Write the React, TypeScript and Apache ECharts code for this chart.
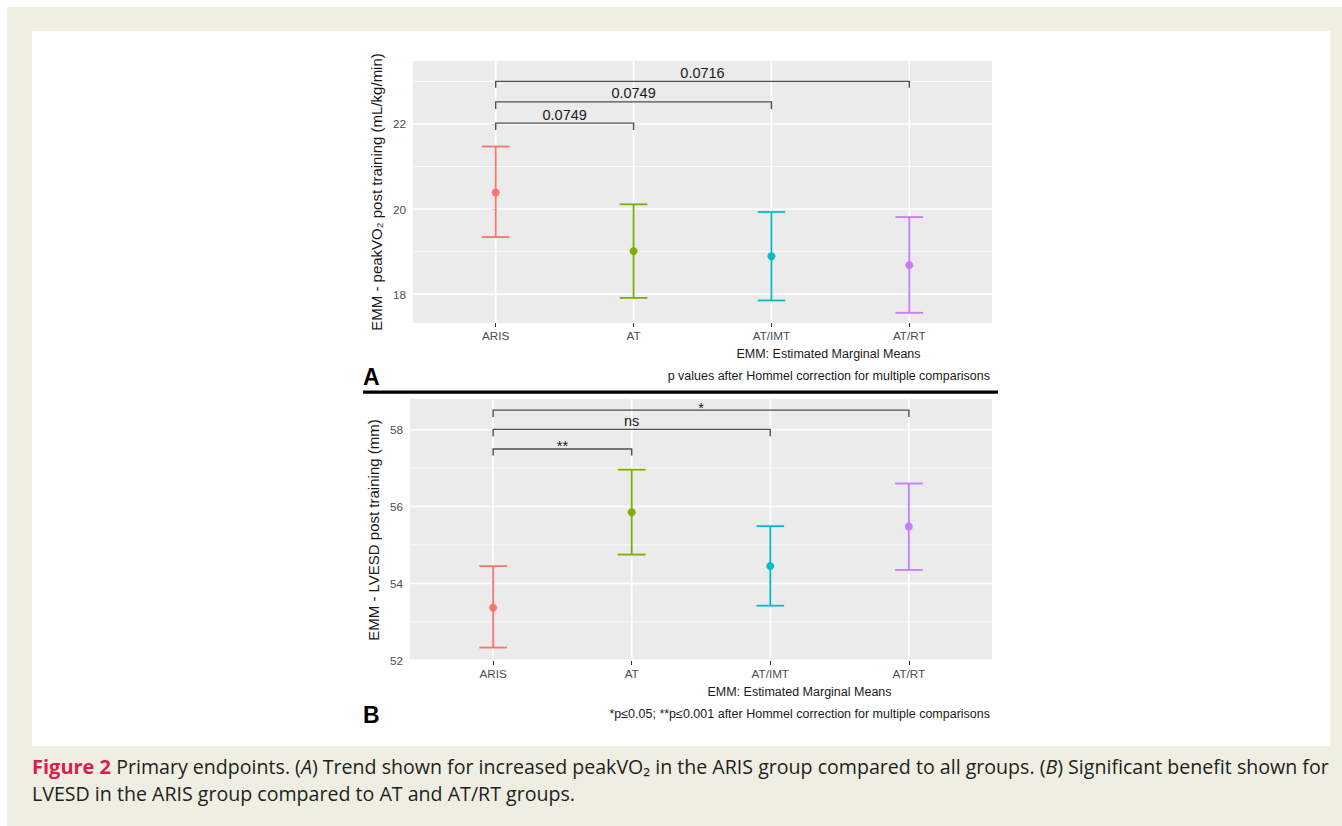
import React, { useEffect, useRef } from 'react';
import * as echarts from 'echarts';

const groups = ['ARIS', 'AT', 'AT/IMT', 'AT/RT'];
const groupColors = ['#F8766D', '#7CAE00', '#00BFC4', '#C77CFF'];

// Panel A: peakVO2 EMM (mL/kg/min)
const vo2Mean = [20.39, 19.01, 18.89, 18.68];
const vo2Low = [19.34, 17.91, 17.85, 17.56];
const vo2High = [21.47, 20.11, 19.93, 19.81];
const vo2Ticks = [18, 20, 22];
const vo2MinorTicks = [19, 21, 23];
const vo2Min = 17.32;
const vo2Max = 23.48;
const vo2BracketTo = [1, 2, 3];
const vo2BracketY = [22.02, 22.52, 23.0];
const vo2BracketTip = [21.86, 22.35, 22.85];
const vo2BracketLabels = ['0.0749', '0.0749', '0.0716'];

// Panel B: LVESD EMM (mm)
const lvMean = [53.37, 55.85, 54.45, 55.48];
const lvLow = [52.33, 54.75, 53.42, 54.35];
const lvHigh = [54.45, 56.96, 55.49, 56.6];
const lvTicks = [52, 54, 56, 58];
const lvMinorTicks = [53, 55, 57];
const lvMin = 51.98;
const lvMax = 58.8;
const lvBracketTo = [1, 2, 3];
const lvBracketY = [57.5, 58.01, 58.51];
const lvBracketTip = [57.33, 57.83, 58.33];
const lvBracketLabels = ['**', 'ns', '*'];

const FONT = '"Liberation Sans", Arial, sans-serif';
const CAPTION_FONT = '"Open Sans", Lato, sans-serif';
const CAPTION_SIZE = 19.6;

function panelSeries(
  gi: number,
  mean: number[],
  low: number[],
  high: number[],
  ticks: number[],
  minor: number[],
  bTo: number[],
  bY: number[],
  bTip: number[],
  bLabels: string[]
): any[] {
  const gridData: number[][] = [
    ...ticks.map((v) => [v, 0, 1.6]),
    ...minor.map((v) => [v, 0, 0.8]),
    ...groups.map((_, k) => [k, 1, 1.6]),
  ];
  return [
    {
      type: 'custom',
      xAxisIndex: gi,
      yAxisIndex: gi,
      silent: true,
      z: 1,
      data: gridData,
      renderItem: (params: any, api: any) => {
        const cs = params.coordSys;
        const v = api.value(0);
        const orient = api.value(1);
        const w = api.value(2);
        if (orient === 0) {
          const y = api.coord([0, v])[1];
          if (y < cs.y - 0.5 || y > cs.y + cs.height + 0.5) return null;
          return {
            type: 'line',
            shape: { x1: cs.x, y1: y, x2: cs.x + cs.width, y2: y },
            style: { stroke: '#ffffff', lineWidth: w },
          };
        }
        const x = api.coord([v, (ticks[0] + ticks[1]) / 2])[0];
        return {
          type: 'line',
          shape: { x1: x, y1: cs.y, x2: x, y2: cs.y + cs.height },
          style: { stroke: '#ffffff', lineWidth: w },
        };
      },
    },
    {
      type: 'custom',
      xAxisIndex: gi,
      yAxisIndex: gi,
      silent: true,
      z: 3,
      data: groups.map((_, k) => [k, low[k], high[k]]),
      encode: { x: 0, y: [1, 2] },
      renderItem: (params: any, api: any) => {
        const k = api.value(0);
        const pLo = api.coord([k, api.value(1)]);
        const pHi = api.coord([k, api.value(2)]);
        const half = api.size([0.1, 0])[0];
        const col = groupColors[params.dataIndex];
        const st = { stroke: col, lineWidth: 1.8 };
        return {
          type: 'group',
          children: [
            { type: 'line', shape: { x1: pLo[0], y1: pLo[1], x2: pHi[0], y2: pHi[1] }, style: st },
            { type: 'line', shape: { x1: pHi[0] - half, y1: pHi[1], x2: pHi[0] + half, y2: pHi[1] }, style: st },
            { type: 'line', shape: { x1: pLo[0] - half, y1: pLo[1], x2: pLo[0] + half, y2: pLo[1] }, style: st },
          ],
        };
      },
    },
    {
      type: 'scatter',
      xAxisIndex: gi,
      yAxisIndex: gi,
      silent: true,
      z: 4,
      symbolSize: 8,
      data: groups.map((_, k) => ({ value: [k, mean[k]], itemStyle: { color: groupColors[k], opacity: 1 } })),
    },
    {
      type: 'custom',
      xAxisIndex: gi,
      yAxisIndex: gi,
      silent: true,
      z: 5,
      data: bTo.map((t, i) => [0, t, bY[i], bTip[i]]),
      encode: { x: [0, 1], y: [2, 3] },
      renderItem: (params: any, api: any) => {
        const a = api.coord([api.value(0), api.value(2)]);
        const b = api.coord([api.value(1), api.value(2)]);
        const ta = api.coord([api.value(0), api.value(3)]);
        const tb = api.coord([api.value(1), api.value(3)]);
        const label = bLabels[params.dataIndex];
        const isStar = label.indexOf('*') >= 0;
        return {
          type: 'group',
          children: [
            {
              type: 'polyline',
              shape: { points: [ta, a, b, tb] },
              style: { stroke: '#505050', lineWidth: 1.4, fill: 'none' },
            },
            {
              type: 'text',
              x: (a[0] + b[0]) / 2,
              y: a[1] + (isStar ? 5 : -1),
              style: {
                text: label,
                fontFamily: FONT,
                fontSize: 14.5,
                fill: '#1a1a1a',
                align: 'center',
                verticalAlign: 'bottom',
              },
            },
          ],
        };
      },
    },
  ];
}

function xAxisFor(gi: number): any {
  return {
    type: 'value',
    gridIndex: gi,
    min: -0.6,
    max: 3.6,
    axisLine: { show: false },
    splitLine: { show: false },
    axisTick: { show: true, customValues: [0, 1, 2, 3], length: 4, lineStyle: { color: '#333333', width: 1 } },
    axisLabel: {
      customValues: [0, 1, 2, 3],
      formatter: (v: number) => groups[Math.round(v)] ?? '',
      color: '#4d4d4d',
      fontFamily: FONT,
      fontSize: 11.7,
      margin: 6,
    },
  };
}

function yAxisFor(gi: number, min: number, max: number, ticks: number[], name: string): any {
  return {
    type: 'value',
    gridIndex: gi,
    min,
    max,
    name,
    nameLocation: 'middle',
    nameGap: 29,
    nameTextStyle: { color: '#1a1a1a', fontFamily: FONT, fontSize: 15 },
    axisLine: { show: false },
    splitLine: { show: false },
    axisTick: { show: true, customValues: ticks, length: 4, lineStyle: { color: '#333333', width: 1 } },
    axisLabel: {
      customValues: ticks,
      color: '#4d4d4d',
      fontFamily: FONT,
      fontSize: 11.7,
      margin: 7,
    },
  };
}

function textEl(text: string, x: number, y: number, align: string, size: number, extra: any = {}): any {
  return {
    type: 'text',
    x,
    y,
    silent: true,
    style: {
      text,
      fontFamily: FONT,
      fontSize: size,
      fill: '#1a1a1a',
      align,
      verticalAlign: 'middle',
      ...extra,
    },
  };
}

export default function App() {
  const ref = useRef<HTMLDivElement>(null);

  useEffect(() => {
    if (!ref.current) return;
    const chart = echarts.init(ref.current, undefined, { renderer: 'svg' });
    const option: any = {
      animation: false,
      backgroundColor: 'transparent',
      grid: [
        { left: 413, top: 61, width: 579, height: 262, show: true, backgroundColor: '#ebebeb', borderWidth: 0 },
        { left: 410, top: 399, width: 582, height: 262, show: true, backgroundColor: '#ebebeb', borderWidth: 0 },
      ],
      xAxis: [xAxisFor(0), xAxisFor(1)],
      yAxis: [
        yAxisFor(0, vo2Min, vo2Max, vo2Ticks, 'EMM - peakVO₂ post training (mL/kg/min)'),
        yAxisFor(1, lvMin, lvMax, lvTicks, 'EMM - LVESD post training (mm)'),
      ],
      series: [
        ...panelSeries(0, vo2Mean, vo2Low, vo2High, vo2Ticks, vo2MinorTicks, vo2BracketTo, vo2BracketY, vo2BracketTip, vo2BracketLabels),
        ...panelSeries(1, lvMean, lvLow, lvHigh, lvTicks, lvMinorTicks, lvBracketTo, lvBracketY, lvBracketTip, lvBracketLabels),
      ],
      graphic: [
        textEl('EMM: Estimated Marginal Means', 828.5, 354, 'center', 12.5),
        textEl('p values after Hommel correction for multiple comparisons', 990, 376, 'right', 12.5),
        textEl('A', 363, 377, 'left', 23, { fontWeight: 'bold', fill: '#000000' }),
        {
          type: 'rect',
          silent: true,
          shape: { x: 363, y: 390.5, width: 635, height: 3.2 },
          style: { fill: '#000000' },
        },
        textEl('EMM: Estimated Marginal Means', 799.5, 692, 'center', 12.5),
        textEl('*p≤0.05; **p≤0.001 after Hommel correction for multiple comparisons', 990, 714, 'right', 12.5),
        textEl('B', 363, 715, 'left', 23, { fontWeight: 'bold', fill: '#000000' }),
        {
          type: 'text',
          x: 32,
          y: 766,
          silent: true,
          style: {
            text: '{f|Figure 2} Primary endpoints. ({i|A}) Trend shown for increased peakVO₂ in the ARIS group compared to all groups. ({i|B}) Significant benefit shown for',
            fontFamily: CAPTION_FONT,
            fontSize: CAPTION_SIZE,
            fill: '#231f20',
            verticalAlign: 'middle',
            rich: {
              f: { fontFamily: CAPTION_FONT, fontSize: 20, fontWeight: 'bold', fill: '#d81e4a', color: '#d81e4a' },
              i: { fontFamily: CAPTION_FONT, fontSize: CAPTION_SIZE, fontStyle: 'italic', fill: '#231f20', color: '#231f20' },
            },
          },
        },
        {
          type: 'text',
          x: 32,
          y: 793,
          silent: true,
          style: {
            text: 'LVESD in the ARIS group compared to AT and AT/RT groups.',
            fontFamily: CAPTION_FONT,
            fontSize: CAPTION_SIZE,
            fill: '#231f20',
            verticalAlign: 'middle',
          },
        },
      ],
    };
    chart.setOption(option);
    return () => chart.dispose();
  }, []);

  return (
    <div style={{ position: 'fixed', left: 0, top: 0, width: 1342, height: 826, background: '#ffffff' }}>
      <div style={{ position: 'absolute', left: 7, top: 7, width: 1335, height: 819, background: '#efeee3' }} />
      <div style={{ position: 'absolute', left: 32, top: 31, width: 1298, height: 715, background: '#ffffff' }} />
      <div ref={ref} style={{ position: 'absolute', left: 0, top: 0, width: 1342, height: 826 }} />
    </div>
  );
}
